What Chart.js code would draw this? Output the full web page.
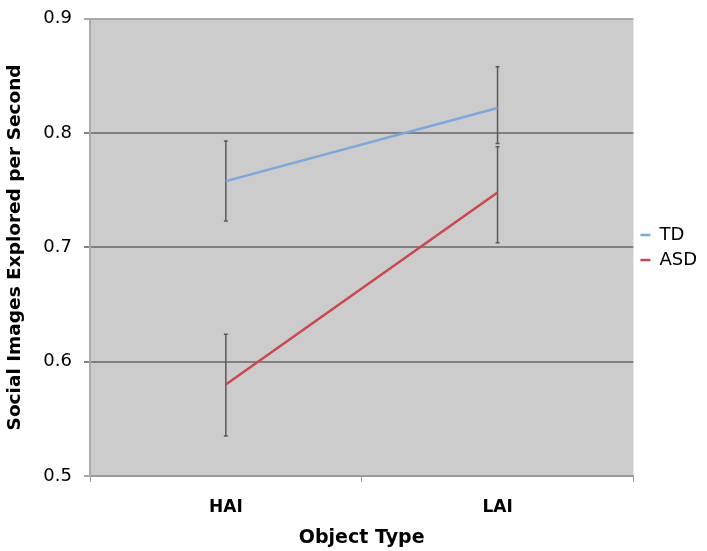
<!DOCTYPE html>
<html>
<head>
<meta charset="utf-8">
<script src="https://cdn.jsdelivr.net/npm/chart.js@4"></script>
<style>
  html, body { margin: 0; padding: 0; background: #ffffff; overflow: hidden; }
  #wrap { width: 707px; height: 555px; margin-top: -4px; }
</style>
</head>
<body>
<div id="wrap"><canvas id="chart"></canvas></div>
<script>
// Values
const categories = ['HAI', 'LAI'];
const tdMeans = [0.758, 0.822];
const tdLow = [0.723, 0.791];
const tdHigh = [0.793, 0.858];
const asdMeans = [0.580, 0.748];
const asdLow = [0.535, 0.704];
const asdHigh = [0.624, 0.788];
const yTicks = [0.5, 0.6, 0.7, 0.8, 0.9];

const FONT = 'DejaVu Sans';

// grey plot area
const plotBackground = {
    id: 'plotBackground',
    beforeDraw(chart) {
        const { ctx, chartArea: a } = chart;
        ctx.save();
        ctx.fillStyle = '#cccccc';
        ctx.fillRect(a.left, a.top, a.right - a.left, a.bottom - a.top);
        ctx.restore();
    }
};

// vertical error bars with tiny caps
const errorBars = {
    id: 'errorBars',
    beforeDatasetsDraw(chart) {
        const { ctx, scales } = chart;
        const ranges = [[tdLow, tdHigh], [asdLow, asdHigh]];
        ctx.save();
        ctx.strokeStyle = '#5a5a5a';
        ctx.lineWidth = 1.5;
        ranges.forEach(([lo, hi]) => {
            categories.forEach((c, i) => {
                const x = scales.x.getPixelForValue(i);
                const y1 = scales.y.getPixelForValue(lo[i]);
                const y2 = scales.y.getPixelForValue(hi[i]);
                ctx.beginPath();
                ctx.moveTo(x, y1); ctx.lineTo(x, y2);
                ctx.moveTo(x - 2, y1); ctx.lineTo(x + 2, y1);
                ctx.moveTo(x - 2, y2); ctx.lineTo(x + 2, y2);
                ctx.stroke();
            });
        });
        ctx.restore();
    }
};

new Chart(document.getElementById('chart'), {
    type: 'line',
    data: {
        labels: categories,
        datasets: [
            {
                label: 'TD',
                data: tdMeans,
                borderColor: '#7ba7dd',
                backgroundColor: '#7ba7dd',
                borderWidth: 2.5,
                pointRadius: 0,
                tension: 0
            },
            {
                label: 'ASD',
                data: asdMeans,
                borderColor: '#cc4650',
                backgroundColor: '#cc4650',
                borderWidth: 2.5,
                pointRadius: 0,
                tension: 0
            }
        ]
    },
    options: {
        responsive: true,
        maintainAspectRatio: false,
        animation: false,
        layout: { padding: { top: 3, right: 0, bottom: 0, left: 4 } },
        plugins: {
            tooltip: { enabled: false },
            legend: {
                position: 'right',
                fullSize: false,
                maxWidth: 74,
                labels: {
                    usePointStyle: true,
                    pointStyle: 'line',
                    pointStyleWidth: 10,
                    boxHeight: 18,
                    padding: 7,
                    color: '#000000',
                    font: { family: FONT, size: 18 }
                }
            }
        },
        scales: {
            x: {
                offset: true,
                grid: {
                    offset: true,
                    drawOnChartArea: false,
                    drawTicks: true,
                    tickLength: 6,
                    color: '#999999'
                },
                border: { color: '#999999', width: 2 },
                ticks: {
                    color: '#000000',
                    padding: 15,
                    font: { family: FONT, size: 17, weight: 'bold' }
                },
                title: {
                    display: true,
                    text: 'Object Type',
                    color: '#000000',
                    padding: { top: 4, bottom: 2 },
                    font: { family: FONT, size: 19, weight: 'bold' }
                },
                afterFit(scale) { scale.height = 75; }
            },
            y: {
                min: 0.5,
                max: 0.9,
                afterBuildTicks(scale) { scale.ticks = yTicks.map(v => ({ value: v })); },
                grid: {
                    color: ctx => (ctx.tick && (ctx.tick.value === 0.5 || ctx.tick.value === 0.9)) ? '#aaaaaa' : '#808080',
                    lineWidth: 2,
                    tickLength: 6,
                    drawTicks: true
                },
                border: { color: '#aaaaaa', width: 2 },
                ticks: {
                    color: '#000000',
                    padding: 12,
                    font: { family: FONT, size: 18 },
                    callback: v => v.toFixed(1)
                },
                title: {
                    display: true,
                    text: 'Social Images Explored per Second',
                    color: '#000000',
                    padding: { top: 0, bottom: 6 },
                    font: { family: FONT, size: 18.5, weight: 'bold' }
                },
                afterFit(scale) { scale.width = 86; }
            }
        }
    },
    plugins: [plotBackground, errorBars]
});
</script>
</body>
</html>
